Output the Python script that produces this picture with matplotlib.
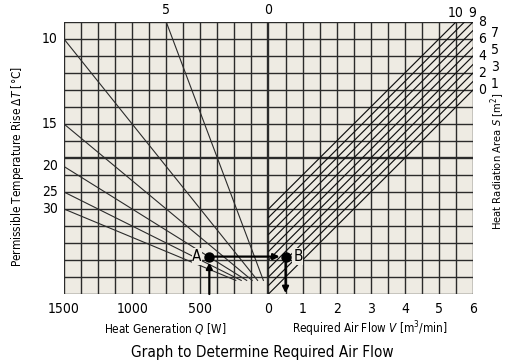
import matplotlib
matplotlib.use('Agg')
import matplotlib.pyplot as plt
from matplotlib import font_manager

# narrow face if one is there, else condensed DejaVu
names = {f.name for f in font_manager.fontManager.ttflist}
face = 'Liberation Sans Narrow' if 'Liberation Sans Narrow' in names else 'DejaVu Sans'
plt.rcParams['font.family'] = [face, 'DejaVu Sans']
plt.rcParams['font.stretch'] = 'condensed'
plt.rcParams['mathtext.fontset'] = 'custom'
plt.rcParams['mathtext.rm'] = face
plt.rcParams['mathtext.it'] = face + ':italic'

# data
q_ticks = [1500, 1000, 500, 0]          # heat generation [W], left half
v_ticks = [1, 2, 3, 4, 5, 6]            # air flow [m3/min], right half
q_per_cell = 125
v_per_cell = 0.5
n_rows = 16

dt_left = [10, 15, 20, 25, 30]          # ΔT lines leaving the Q=1500 edge
dt_left_row = [15, 10, 7.5, 6, 5]       # row where they meet that edge
dt_top = 5                              # ΔT=5 leaves the top edge
dt_top_q = 750
dt_stop_row = 0.8                       # lines stop just above the base

s_values = [0, 1, 2, 3, 4, 5, 6, 7, 8, 9, 10]   # heat radiation area [m2]
s_row_per_m2 = 0.5                      # S line meets V=6 at row 12 + S/2

point_a = (434, 2.2)   # Q [W], row
point_b = (0.5, 2.2)   # V [m3/min], row

bg = '#eeebe3'
ink = '#2b2b2b'
fs = 10


def xq(q):
    return -q / q_per_cell


def xv(v):
    return v / v_per_cell


fig = plt.figure(figsize=(5.1, 3.64), dpi=100)
ax = fig.add_axes([64/510, 70/364, 409/510, 272/364])
ax.set_facecolor(bg)
xmin, xmax = xq(1500), xv(6)
ax.set_xlim(xmin, xmax)
ax.set_ylim(0, n_rows)
for s in ax.spines.values():
    s.set_visible(False)
ax.set_xticks([])
ax.set_yticks([])

# grid
for i in range(int(xmin), int(xmax) + 1):
    ax.axvline(i, color=ink, lw=1.0 if i != 0 else 1.7, zorder=1)
for j in range(0, n_rows + 1):
    ax.axhline(j, color=ink, lw=1.0 if j != 8 else 1.7, zorder=1)

# ΔT lines on the left
for dt, row in zip(dt_left, dt_left_row):
    slope = row / xmin
    ax.plot([xmin, dt_stop_row / slope], [row, dt_stop_row], color=ink, lw=0.8, zorder=2)
    ax.text(xmin - 0.35, row, str(dt), ha='right', va='center', fontsize=fs)
slope5 = n_rows / xq(dt_top_q)
ax.plot([xq(dt_top_q), dt_stop_row / slope5], [n_rows, dt_stop_row], color=ink, lw=0.8, zorder=2)
ax.text(xq(dt_top_q), n_rows + 0.3, str(dt_top), ha='center', va='bottom', fontsize=fs)
ax.text(0, n_rows + 0.3, '0', ha='center', va='bottom', fontsize=fs)

# S lines on the right
for s in s_values:
    y0 = s * s_row_per_m2
    x1 = min(xmax, n_rows - y0)
    y1 = x1 + y0
    ax.plot([0, x1], [y0, y1], color='#111111', lw=0.85, zorder=2)
    if s <= 8:
        dx = 4 if s % 2 == 0 else 13
        ax.annotate(str(s), (x1, y1), xytext=(dx, -1.5 if s % 2 else 0),
                    textcoords='offset points', ha='left', va='center', fontsize=fs)
    else:
        ax.annotate(str(s), (x1, y1), xytext=(0 if s == 10 else 5.5, 1.5),
                    textcoords='offset points', ha='center', va='bottom', fontsize=fs)

# bottom tick labels
for q in q_ticks:
    ax.text(xq(q), -0.45, str(q), ha='center', va='top', fontsize=fs)
for v in v_ticks:
    ax.text(xv(v), -0.45, str(v), ha='center', va='top', fontsize=fs)

# A -> B example
xa, ya = xq(point_a[0]), point_a[1]
xb, yb = xv(point_b[0]), point_b[1]
arr = dict(arrowstyle='-|>', color='black', lw=1.6, mutation_scale=9, shrinkA=0, shrinkB=0)
ax.annotate('', xy=(xa, ya - 0.35), xytext=(xa, 0), arrowprops=arr, zorder=4)
ax.annotate('', xy=(xb - 0.35, yb), xytext=(xa, ya), arrowprops=arr, zorder=4)
ax.annotate('', xy=(xb, 0.05), xytext=(xb, yb), arrowprops=arr, zorder=4)
ax.plot([xa, xb], [ya, yb], 'o', color='black', ms=6.5, zorder=5)
box = dict(facecolor=bg, edgecolor='none', pad=0.5)
ax.text(xa - 0.45, ya, 'A', ha='right', va='center', fontsize=11, bbox=box, zorder=4)
ax.text(xb + 0.45, yb, 'B', ha='left', va='center', fontsize=11, bbox=box, zorder=4)

# axis titles
fig.text(165/510, 1 - 329/364, 'Heat Generation $Q$ [W]', ha='center', va='center', fontsize=8.5)
fig.text(370/510, 1 - 329/364, 'Required Air Flow $V$ [m$^3$/min]', ha='center', va='center', fontsize=8.5)
fig.text(18/510, 1 - 166/364, 'Permissible Temperature Rise Δ$T$ [°C]', rotation=90,
         ha='center', va='center', fontsize=8.5)
fig.text(498/510, 1 - 93/364, 'Heat Radiation Area $S$ [m$^2$]', rotation=90,
         ha='center', va='top', fontsize=8)
fig.text(262/510, 1 - 353/364, 'Graph to Determine Required Air Flow', ha='center',
         va='center', fontsize=11)

fig.savefig('out.png', dpi=100, facecolor='white')
